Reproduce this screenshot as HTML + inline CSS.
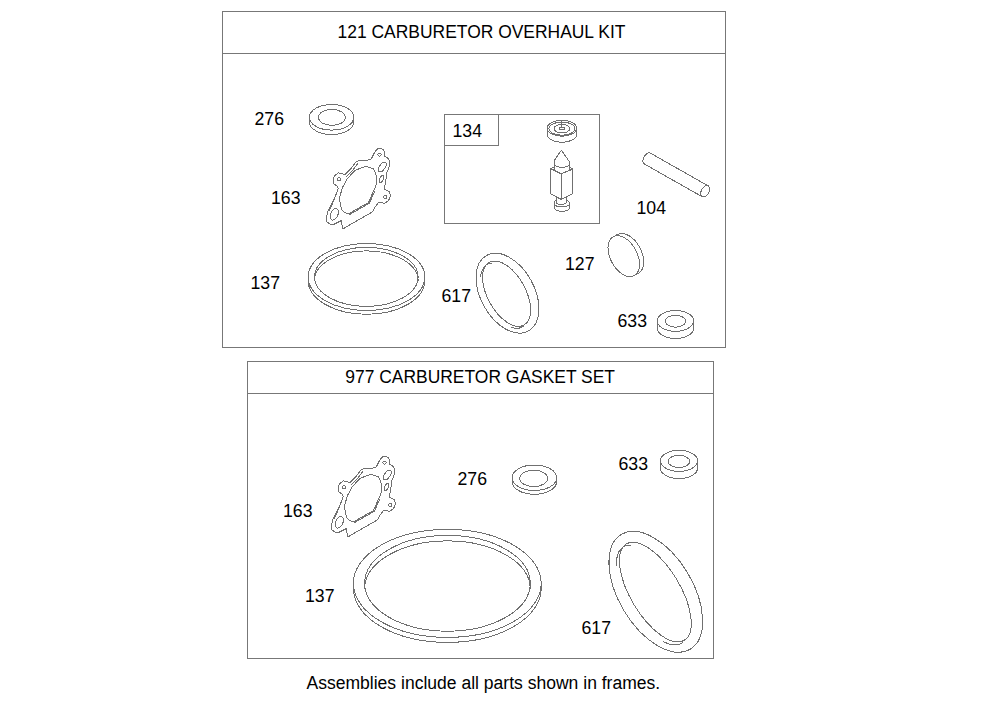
<!DOCTYPE html>
<html><head><meta charset="utf-8">
<style>
html,body{margin:0;padding:0;background:#fff;width:1008px;height:711px;overflow:hidden}
svg{position:absolute;left:0;top:0}
text{font-family:"Liberation Sans",sans-serif;font-size:17.35px;fill:#000}
.p{fill:none;stroke:#707070;stroke-width:1;stroke-linejoin:round;stroke-linecap:round;shape-rendering:crispEdges}
</style></head><body>
<svg width="1008" height="711" viewBox="0 0 1008 711">
<g fill="none" stroke="#777" stroke-width="1" shape-rendering="crispEdges">
<rect x="222.5" y="11.5" width="503" height="336"/>
<line x1="222.5" y1="53.5" x2="725.5" y2="53.5"/>
<rect x="247.5" y="361.5" width="466" height="297"/>
<line x1="247.5" y1="393.5" x2="713.5" y2="393.5"/>
<rect x="444.5" y="114.5" width="155" height="109"/>
<polyline points="444.5,145.5 498.5,145.5 498.5,114.5"/>
</g>
<g class="p">
<ellipse cx="331.6" cy="117.3" rx="22.2" ry="12.8"/><path d="M309.40,117.3 V121.80 A22.2,12.8 0 0 0 353.80,121.80 V117.3"/><ellipse cx="331.9" cy="117.4" rx="13.4" ry="8.0"/>
<ellipse cx="534.35" cy="477.75" rx="22.35" ry="12.75"/><path d="M512.00,477.75 V481.55 A22.35,12.75 0 0 0 556.70,481.55 V477.75"/><ellipse cx="533.75" cy="478.35" rx="13.95" ry="8.25"/>
<ellipse cx="675.45" cy="320.9" rx="18.15" ry="10.4"/><path d="M657.30,320.9 V328.10 A18.15,10.4 0 0 0 693.60,328.10 V320.9"/><ellipse cx="675.5" cy="321.25" rx="10.2" ry="5.95"/>
<ellipse cx="679" cy="460.85" rx="18.6" ry="10.55"/><path d="M660.40,460.85 V468.05 A18.6,10.55 0 0 0 697.60,468.05 V460.85"/><ellipse cx="678.95" cy="461.4" rx="10.75" ry="6.1"/>
<path d="M380.9,148.2 L383.2,149.5 384.1,151.5 384.4,156.1 387.2,157.5 389.3,160.3 389.7,165.2 387.9,170.1 386.5,173.6 385.8,181.4 384.7,187 385,189.7 389.3,191.5 390.4,195.9 388.6,200.6 384.3,203.5 382.1,202.7 378.5,202.4 373.4,209.6 372.7,211.8 343.7,228.4 342.3,228.4 341.6,220.5 334.3,224.1 330.7,224.5 326.7,221.9 327.1,213.2 335,197.3 338.2,188.4 337.5,186.3 333.3,183.5 333.3,178.5 334.7,175.7 338.2,172.9 341.7,173.3 344.5,175 351.5,168 355.5,162.4 359.1,160.6 364.7,160.3 369.6,159.9 371.7,158.2 374.5,152.5 377.3,149 Z"/>
 <path d="M346.2,176.6 L353.2,169.6 357.4,163.9"/>
 <path d="M336,194 L334.5,199 329.2,211"/>
 <path d="M366.1,166.3 L373.1,168.7 375.9,173.6 376.6,180.7 375.9,186.3 373.8,190.5 368.3,202.7 348.1,214 344.5,212.3 342.3,210.3 340.3,205.3 339.6,197.5 342.4,187.7 347.3,178.5 355.5,170.1 Z"/>
 <path d="M374.8,191.2 L369.2,203.4 349,214.8"/>
 <circle cx="379.5" cy="154.7" r="1.6"/>
 <circle cx="338.9" cy="179.3" r="1.6"/>
 <circle cx="385.4" cy="197" r="1.6"/>
 <ellipse rx="2.8" ry="5.5" transform="translate(382.3,167) rotate(35)"/>
 <ellipse rx="1.8" ry="3.8" transform="translate(381.6,178.9) rotate(25)"/>
 <ellipse rx="3.6" ry="6.2" transform="translate(334.3,214.3) rotate(25)"/>
<g transform="translate(5,308)"><path d="M380.9,148.2 L383.2,149.5 384.1,151.5 384.4,156.1 387.2,157.5 389.3,160.3 389.7,165.2 387.9,170.1 386.5,173.6 385.8,181.4 384.7,187 385,189.7 389.3,191.5 390.4,195.9 388.6,200.6 384.3,203.5 382.1,202.7 378.5,202.4 373.4,209.6 372.7,211.8 343.7,228.4 342.3,228.4 341.6,220.5 334.3,224.1 330.7,224.5 326.7,221.9 327.1,213.2 335,197.3 338.2,188.4 337.5,186.3 333.3,183.5 333.3,178.5 334.7,175.7 338.2,172.9 341.7,173.3 344.5,175 351.5,168 355.5,162.4 359.1,160.6 364.7,160.3 369.6,159.9 371.7,158.2 374.5,152.5 377.3,149 Z"/>
 <path d="M346.2,176.6 L353.2,169.6 357.4,163.9"/>
 <path d="M336,194 L334.5,199 329.2,211"/>
 <path d="M366.1,166.3 L373.1,168.7 375.9,173.6 376.6,180.7 375.9,186.3 373.8,190.5 368.3,202.7 348.1,214 344.5,212.3 342.3,210.3 340.3,205.3 339.6,197.5 342.4,187.7 347.3,178.5 355.5,170.1 Z"/>
 <path d="M374.8,191.2 L369.2,203.4 349,214.8"/>
 <circle cx="379.5" cy="154.7" r="1.6"/>
 <circle cx="338.9" cy="179.3" r="1.6"/>
 <circle cx="385.4" cy="197" r="1.6"/>
 <ellipse rx="2.8" ry="5.5" transform="translate(382.3,167) rotate(35)"/>
 <ellipse rx="1.8" ry="3.8" transform="translate(381.6,178.9) rotate(25)"/>
 <ellipse rx="3.6" ry="6.2" transform="translate(334.3,214.3) rotate(25)"/></g>
<ellipse cx="366.5" cy="277" rx="58.3" ry="33.5"/><path d="M308.20,277 V280.80 A58.3,33.5 0 0 0 424.80,280.80 V277"/><ellipse cx="366.3" cy="276.9" rx="51.8" ry="29.5"/><path d="M314.50,280.40 A51.8,29.5 0 0 1 418.10,280.40"/>
<ellipse cx="447.3" cy="583.4" rx="93.9" ry="54"/><path d="M353.40,583.4 V588.40 A93.9,54 0 0 0 541.20,588.40 V583.4"/><ellipse cx="447.45" cy="583.3" rx="82.8" ry="47.9"/><path d="M364.65,588.80 A82.8,47.9 0 0 1 530.25,588.80"/>
<ellipse rx="26.8" ry="43.2" transform="translate(507.5,293.2) rotate(-29)"/><ellipse rx="19" ry="35.8" transform="translate(506.6,293.7) rotate(-29)"/><path d="M491.3,263.1 L490.5,263.2 L489.8,263.4 L489.1,263.6 L488.4,263.8 L487.8,264.1 L487.2,264.4 L486.6,264.8 L486.0,265.2 L485.4,265.7 L484.9,266.2 L484.4,266.7 L483.9,267.3 L483.5,267.9 L483.1,268.6 L482.7,269.3 L482.3,270.0 L482.0,270.8 L481.7,271.6 L481.5,272.5 L481.2,273.3 L481.0,274.2 L480.9,275.2 L480.7,276.1"/><path d="M511.7,327.5 L512.3,327.7 L512.9,327.9 L513.5,328.0 L514.1,328.1 L514.7,328.2 L515.2,328.3 L515.8,328.3 L516.4,328.3 L516.9,328.3 L517.4,328.3 L518.0,328.3 L518.5,328.2 L519.0,328.1 L519.5,328.0 L520.0,327.8 L520.5,327.7 L521.0,327.5 L521.4,327.3 L521.9,327.1 L522.3,326.8 L522.7,326.5 L523.1,326.2 L523.5,325.9"/>
<ellipse rx="37" ry="66.9" transform="translate(655.8,591.8) rotate(-31)"/><ellipse rx="24.8" ry="56.2" transform="translate(655.37,592.06) rotate(-31)"/><path d="M630.9,545.3 L629.6,545.2 L628.5,545.3 L627.4,545.4 L626.3,545.7 L625.3,546.0 L624.3,546.4 L623.3,546.9 L622.5,547.5 L621.7,548.2 L620.9,549.0 L620.2,549.8 L619.5,550.8 L618.9,551.8 L618.4,552.9 L617.9,554.0 L617.5,555.3 L617.2,556.6 L616.9,558.0 L616.7,559.4 L616.6,561.0 L616.5,562.5 L616.5,564.2 L616.5,565.9"/><path d="M663.4,641.6 L664.4,642.1 L665.4,642.6 L666.4,643.0 L667.4,643.4 L668.4,643.7 L669.4,644.0 L670.3,644.3 L671.3,644.5 L672.2,644.7 L673.1,644.8 L674.0,644.9 L674.8,644.9 L675.7,644.9 L676.5,644.8 L677.3,644.7 L678.1,644.5 L678.8,644.3 L679.6,644.1 L680.3,643.8 L680.9,643.5 L681.6,643.1 L682.2,642.6 L682.8,642.2"/>
<g transform="translate(623.75,256.15) rotate(-28.2)"><ellipse rx="13.4" ry="22.05"/><path d="M0,-22.05 H4.8 A13.4,22.05 0 0 1 4.8,22.05 H0"/></g>
<g transform="translate(647.4,158.6) rotate(29.5)"><path d="M0,-6.2 H66.4 M0,6.2 H66.4 M0,-6.2 A3.8,6.2 0 0 0 0,6.2"/><ellipse cx="66.4" rx="3.8" ry="6.2"/></g>
<ellipse cx="561.95" cy="128.2" rx="14.75" ry="8"/>
 <path d="M547.2,128.2 V134.3 A14.75,8 0 0 0 576.7,134.3 V128.2"/>
 <ellipse cx="561.95" cy="128.6" rx="13.0" ry="6.6"/>
 <ellipse cx="561.95" cy="128.6" rx="7.75" ry="4.4"/>
 <ellipse cx="562" cy="128.4" rx="2.7" ry="1.2"/>
 <path d="M561.4,121.5 V127.2"/>
 <path d="M554.4,160.4 L561.4,150.1 569.4,161.8"/>
 <path d="M554.4,164 A7.5,3.3 0 0 0 569.4,164"/>
 <path d="M554.4,160.4 V170.4 M569.4,161.8 V169.9"/>
 <path d="M550.5,168.5 L554.4,167.3 M569.4,167.3 L572.6,169"/>
 <path d="M550.5,168.5 L561.1,173.8 572.6,169.2 V193.8 L561.3,199.5 550.5,193.6 Z M561.1,173.8 V199.5"/>
 <path d="M556.3,197.4 V202 A5.1,2.4 0 0 0 566.5,202 V197.4"/>
 <path d="M556.3,200.5 A7.5,3.2 0 0 0 554.4,203.8 V208 A7.5,3.3 0 0 0 569.4,208 V203.8 A7.5,3.2 0 0 0 566.5,200.5"/>
 <path d="M554.4,203.8 A7.5,3.2 0 0 0 569.4,203.8"/>
</g>
<text x="337.6" y="37.6" style="font-size:17.45px">121 CARBURETOR OVERHAUL KIT</text>
<text x="345.3" y="382.9" style="font-size:17.45px">977 CARBURETOR GASKET SET</text>
<text x="306.5" y="689.1" style="font-size:17.55px">Assemblies include all parts shown in frames.</text>
<text x="254.5" y="124.8" style="font-size:17.7px">276</text>
<text x="271" y="203.8" style="font-size:17.7px">163</text>
<text x="250.5" y="288.9" style="font-size:17.7px">137</text>
<text x="452.5" y="137.0" style="font-size:17.7px">134</text>
<text x="636.5" y="214.2" style="font-size:17.7px">104</text>
<text x="565" y="269.9" style="font-size:17.7px">127</text>
<text x="441.5" y="302" style="font-size:17.7px">617</text>
<text x="617.5" y="327.3" style="font-size:17.7px">633</text>
<text x="283" y="517.2" style="font-size:17.7px">163</text>
<text x="457.5" y="484.9" style="font-size:17.7px">276</text>
<text x="618.5" y="469.5" style="font-size:17.7px">633</text>
<text x="305" y="601.9" style="font-size:17.7px">137</text>
<text x="581.5" y="633.5" style="font-size:17.7px">617</text>
</svg>
</body></html>
